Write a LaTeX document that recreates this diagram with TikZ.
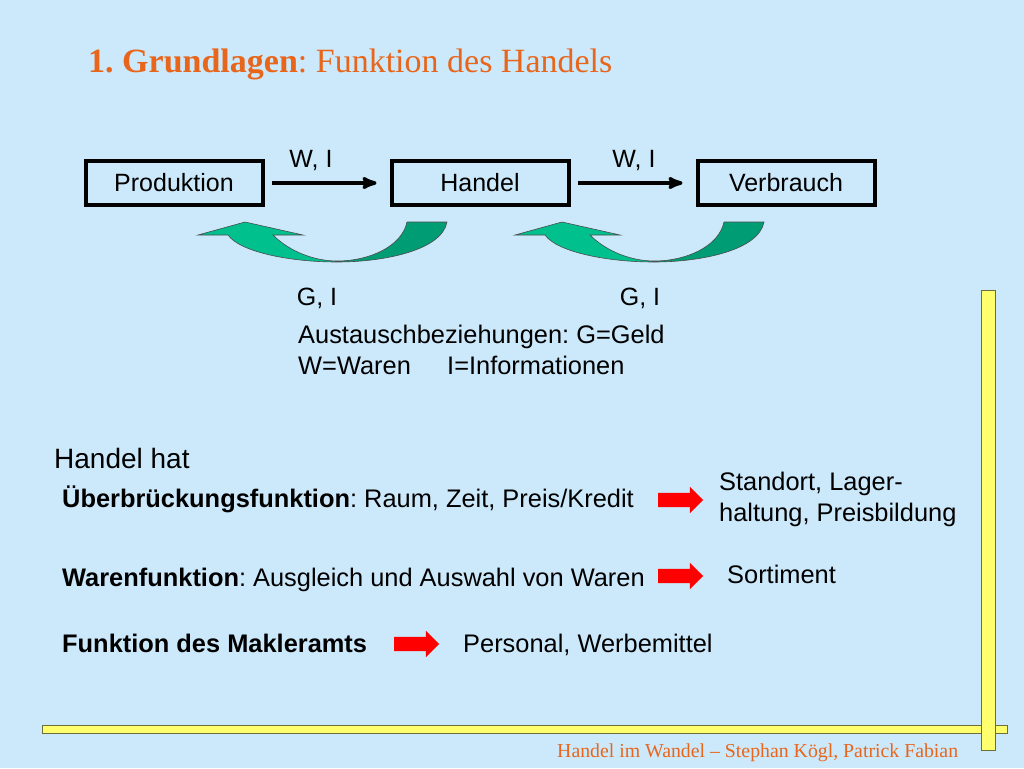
\documentclass[tikz,border=0pt]{standalone}
\usepackage{fontspec}
\setmainfont{Liberation Sans}
\newfontfamily\titlefont{Liberation Serif}
\usepackage{tikz}
\usetikzlibrary{arrows,positioning,shapes.arrows}
\frenchspacing

\definecolor{bgblue}{RGB}{204,233,251}
\definecolor{titleorange}{RGB}{232,102,28}
\definecolor{lightgreen}{RGB}{0,192,142}
\definecolor{darkgreen}{RGB}{0,156,116}
\definecolor{baryellow}{RGB}{255,255,110}
\definecolor{barolive}{RGB}{110,110,60}

\begin{document}
\begin{tikzpicture}[x=1pt,y=-1pt,->,>=stealth',auto,node distance=306pt,
  main node/.style={rectangle,draw,line width=4pt,minimum width=177pt,minimum height=44pt,
    inner sep=0pt,font=\fontsize{25}{30}\selectfont},
  text node/.style={anchor=base west,inner sep=0pt,font=\fontsize{25.4}{30}\selectfont},
  label node/.style={anchor=base,inner sep=0pt,font=\fontsize{25}{30}\selectfont},
  list node/.style={anchor=base west,inner sep=0pt,font=\fontsize{25.4}{30}\selectfont},
  red arrow/.style={single arrow,fill=red,draw=none,minimum height=45pt,minimum width=26pt,
    single arrow head extend=6pt,inner xsep=0pt,inner ysep=7pt,-},
  bar/.style={fill=baryellow,draw=barolive,line width=1pt,-}]
  % background
  \fill[bgblue] (0,0) rectangle (1024,768);
  \useasboundingbox (0,0) rectangle (1024,768);

  % title
  \node[anchor=base west,inner sep=0pt,text=titleorange,font=\titlefont\fontsize{34}{40}\selectfont]
    (title) at (88,72) {\textbf{1.\ Grundlagen}: Funktion des Handels};

  % chain of boxes
  \node[main node] (prod) at (174,183) {Produktion};
  \node[main node] (hand) [right of=prod] {Handel};
  \node[main node] (verb) [right of=hand] {Verbrauch};

  \path[line width=3.5pt,shorten <=7pt,shorten >=13pt]
    (prod) edge (hand)
    (hand) edge (verb);

  \node[label node] (wi1) at (311,167) {W, I};
  \node[label node] (wi2) at (634,167) {W, I};

  % green return arrows
  \foreach \dx in {0,317} {
    \begin{scope}[xshift=\dx pt,-]
      \fill[lightgreen] (337,262) .. controls (290,262) and (240,252) .. (228,235)
        -- (198,235) -- (245,222) -- (303,235) -- (273,235)
        .. controls (290,252) and (315,261) .. (337,261) -- cycle;
      \fill[darkgreen] (337,261) .. controls (370,261) and (402,246) .. (407,222)
        -- (447,222) .. controls (442,250) and (385,262) .. (337,262) -- cycle;
      \draw[black!70,line width=0.6pt] (407,222) -- (447,222)
        .. controls (442,250) and (385,262) .. (337,262)
        .. controls (290,262) and (240,252) .. (228,235)
        -- (198,235) -- (245,222) -- (303,235) -- (273,235)
        .. controls (290,252) and (315,261) .. (337,261)
        .. controls (370,261) and (402,246) .. (407,222);
    \end{scope}
  }

  \node[label node] (gi1) at (317,305) {G, I};
  \node[label node] (gi2) at (640,305) {G, I};

  \node[text node] (legend1) at (298,343) {Austauschbeziehungen: G=Geld};
  \node[text node] (legend2) at (298,374) {W=Waren};
  \node[text node] (legend3) at (447,374) {I=Informationen};

  % functions
  \node[text node,font=\fontsize{28}{33}\selectfont] (hat) at (54,468) {Handel hat};
  \node[list node] (ueber) at (62,507) {\textbf{Überbrückungsfunktion}: Raum, Zeit, Preis/Kredit};
  \node[list node] (waren) at (62,586) {\textbf{Warenfunktion}: Ausgleich und Auswahl von Waren};
  \node[list node] (makler) at (62,652) {\textbf{Funktion des Makleramts}};

  \node[red arrow] (arr1) at (677,500) {};
  \node[red arrow] (arr2) at (677,576) {};
  \node[red arrow] (arr3) at (413,644) {};

  \node[list node] (stand1) at (719,490) {Standort, Lager-};
  \node[list node] (stand2) at (719,521) {haltung, Preisbildung};
  \node[list node] (sort) at (727,583) {Sortiment};
  \node[list node] (pers) at (463,652) {Personal, Werbemittel};

  % yellow frame bars
  \draw[bar] (42,725) rectangle (1007,733);
  \draw[bar] (981,290) rectangle (995,750);

  % footer
  \node[anchor=base west,inner sep=0pt,text=titleorange,font=\titlefont\fontsize{19.8}{23}\selectfont]
    (footer) at (557,757) {Handel im Wandel – Stephan Kögl, Patrick Fabian};
\end{tikzpicture}
\end{document}
